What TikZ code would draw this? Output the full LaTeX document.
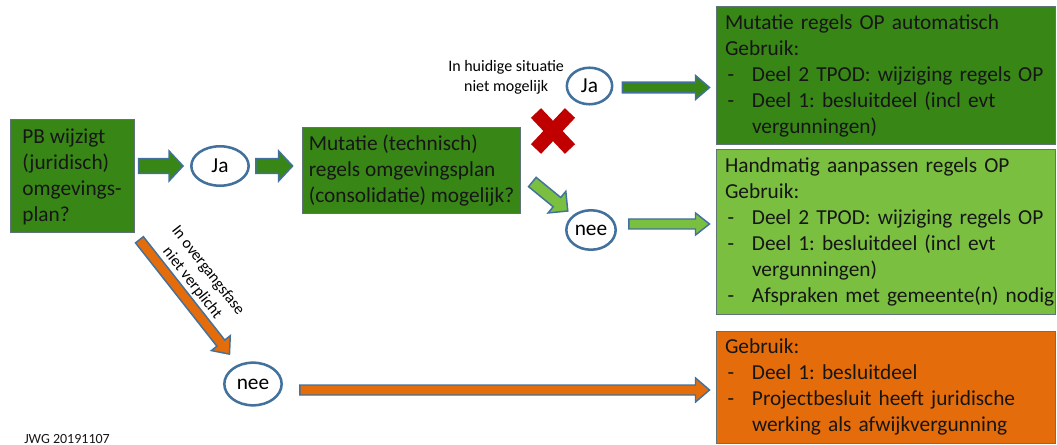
\documentclass[tikz,border=0pt]{standalone}
\usepackage{fontspec}
\setmainfont{Carlito}
\frenchspacing
\usetikzlibrary{shapes.geometric, calc, positioning}
\definecolor{dkgreen}{RGB}{56,134,22}
\definecolor{ltgreen}{RGB}{122,191,64}
\definecolor{myorange}{RGB}{228,108,10}
\definecolor{ovalblue}{RGB}{65,113,156}
\definecolor{boxline}{RGB}{95,115,120}
\definecolor{txtdark}{RGB}{22,22,22}
\definecolor{xred}{RGB}{192,0,0}
\newcommand{\boxfont}{\fontsize{16}{19.5}\selectfont}
\newcommand{\notefont}{\fontsize{12}{15}\selectfont}
\newcommand{\bul}{\hspace*{2pt}-}
\tikzset{
  stepbox/.style={rectangle, draw=boxline, line width=0.75pt, align=left,
    font=\boxfont, text=txtdark, inner ysep=2pt},
  outbox/.style={stepbox, text width=240.75pt, inner xsep=6.75pt},
  decision/.style={ellipse, draw=ovalblue, fill=white, line width=1.9pt,
    inner sep=0pt, font=\boxfont},
  note/.style={font=\notefont, align=center, inner sep=1pt},
  fatline/.style={draw=ovalblue, line width=1.1pt, line join=miter},
  redbar/.style={draw=xred, line width=10.5pt}
}
% fat block arrow: fill, start, end, half shaft, half head
\newcommand{\fatarrow}[5]{%
  \coordinate (fa-s) at #2;
  \coordinate (fa-e) at #3;
  \coordinate (fa-n) at ($(fa-e)!10.5pt!(fa-s)$);
  \draw[fatline, fill=#1]
    ($(fa-s)!#4!90:(fa-e)$) -- ($(fa-n)!#4!90:(fa-e)$) -- ($(fa-n)!#5!90:(fa-e)$)
    -- (fa-e) -- ($(fa-n)!#5!-90:(fa-e)$) -- ($(fa-n)!#4!-90:(fa-e)$)
    -- ($(fa-s)!#4!-90:(fa-e)$) -- cycle;
}
\begin{document}
\begin{tikzpicture}[x=0.75pt, y=-0.75pt]
  \useasboundingbox (0,0) rectangle (1057,445);

  % left part
  \node[stepbox, fill=dkgreen, minimum width=93pt, minimum height=84.75pt] (pb) at (72,176.5)
    {PB wijzigt\\(juridisch)\\omgevings-\\plan?};
  \node[decision, minimum width=43pt, minimum height=29.6pt] (ja1) at (220,166) {Ja};
  \node[stepbox, fill=dkgreen, minimum width=164pt, minimum height=64.5pt] (mut) at (411.5,171)
    {Mutatie (technisch)\\regels omgevingsplan\\(consolidatie) mogelijk?};
  \node[decision, minimum width=43pt, minimum height=32pt] (nee2) at (253,384) {nee};

  % middle part
  \node[decision, minimum width=34pt, minimum height=27.4pt] (ja2) at (589.5,86) {Ja};
  \node[decision, minimum width=37pt, minimum height=29.6pt] (nee1) at (591,230) {nee};
  \node[note, left=0pt of ja2, yshift=6.75pt] (nomut) {In huidige situatie\\niet mogelijk};
  \node[note, rotate=-52] (trans) at (200,277) {In overgangsfase\\niet verplicht};

  % results
  \node[outbox, fill=dkgreen, minimum height=103.5pt] (auto) at (885.5,76) {%
    \begin{tabular}{@{}p{20.25pt}@{}l@{}}
      \multicolumn{2}{@{}l@{}}{Mutatie regels OP automatisch}\\
      \multicolumn{2}{@{}l@{}}{Gebruik:}\\
      \bul & Deel 2 TPOD: wijziging regels OP\\
      \bul & Deel 1: besluitdeel (incl evt\\
           & vergunningen)
    \end{tabular}};
  \node[outbox, fill=ltgreen, minimum height=123.75pt] (hand) at (885.5,232.5) {%
    \begin{tabular}{@{}p{20.25pt}@{}l@{}}
      \multicolumn{2}{@{}l@{}}{Handmatig aanpassen regels OP}\\
      \multicolumn{2}{@{}l@{}}{Gebruik:}\\
      \bul & Deel 2 TPOD: wijziging regels OP\\
      \bul & Deel 1: besluitdeel (incl evt\\
           & vergunningen)\\
      \bul & Afspraken met gemeente(n) nodig
    \end{tabular}};
  \node[outbox, fill=myorange, minimum height=83.25pt] (proj) at (885.5,387.5) {%
    \begin{tabular}{@{}p{20.25pt}@{}l@{}}
      \multicolumn{2}{@{}l@{}}{Gebruik:}\\
      \bul & Deel 1: besluitdeel\\
      \bul & Projectbesluit heeft juridische\\
           & werking als afwijkvergunning
    \end{tabular}};

  \node[font=\fontsize{10.5}{12}\selectfont, text=txtdark, anchor=base west, inner sep=0pt]
    (stamp) at (24,443) {JWG 20191107};

  % arrows
  \fatarrow{dkgreen}{($(pb.east |- ja1)+(4,0)$)}{($(ja1.west)+(-7,0)$)}{5.6pt}{11.25pt}
  \fatarrow{dkgreen}{($(ja1.east)+(6,0)$)}{($(mut.west |- ja1)+(-9,0)$)}{5.6pt}{11.25pt}
  \fatarrow{dkgreen}{($(ja2.east)+(9,1.5)$)}{($(auto.west |- ja2)+(-6,1.5)$)}{4.1pt}{9pt}
  \coordinate (d1) at ($(mut.east)+(11,11)$);
  \fatarrow{ltgreen}{(d1)}{($(nee1)!22.5pt!(d1)$)}{4.5pt}{10.5pt}
  \fatarrow{ltgreen}{($(nee1.east)+(12,-6)$)}{($(hand.west |- nee1)+(-6,-6)$)}{3.75pt}{8.25pt}
  \fatarrow{myorange}{($(pb.south east)!6pt!(nee2)$)}{($(nee2)!28.5pt!(pb.south east)$)}{3.75pt}{9pt}
  \fatarrow{myorange}{($(nee2.east)+(17,6)$)}{($(proj.west |- nee2)+(-6,6)$)}{3.75pt}{9pt}

  % not possible
  \coordinate (nocross) at (553,131);
  \draw[redbar] ($(nocross)+(-17,-18)$) -- ($(nocross)+(17,18)$);
  \draw[redbar] ($(nocross)+(17,-18)$) -- ($(nocross)+(-17,18)$);
\end{tikzpicture}
\end{document}
